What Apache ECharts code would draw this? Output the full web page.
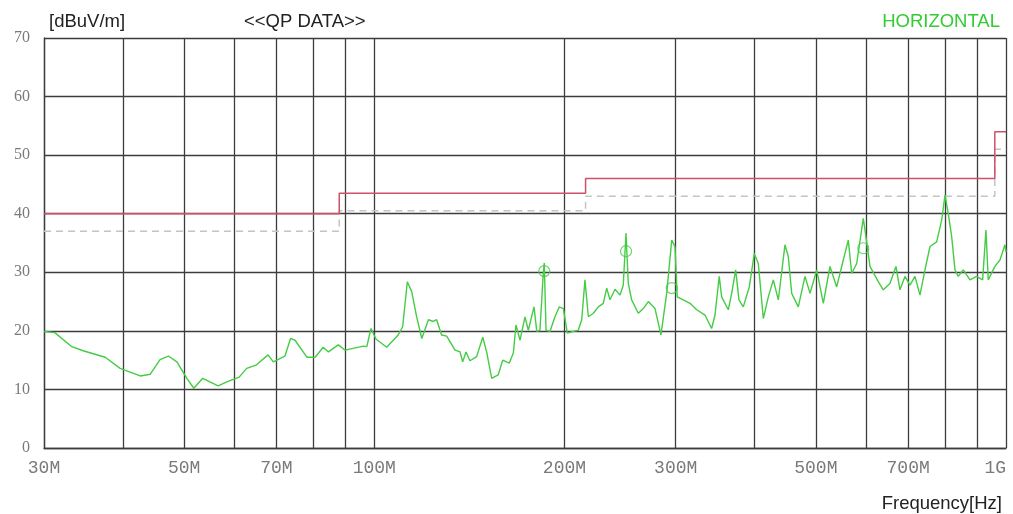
<!DOCTYPE html>
<html>
<head>
<meta charset="utf-8">
<script src="https://cdn.jsdelivr.net/npm/echarts@6/dist/echarts.min.js"></script>
<style>
html,body{margin:0;padding:0;background:#fff;}
#chart{width:1013px;height:514px;}
</style>
</head>
<body>
<div id="chart"></div>
<script>
// ---- data (frequency in MHz, level in dBuV/m) ----
const traceFreq = [30,31.2,33.2,34.6,37.5,39.6,42.6,44.2,45.8,47.2,48.7,50.5,51.8,53.5,56.6,58.4,61.1,62.8,65.1,67.9,69.2,72.2,73.7,74.9,78.2,80.6,83.0,84.6,87.7,89.9,96.1,97.3,98.8,100.6,
104.6,109.1,110.9,112.8,114.6,116.7,118.9,121.8,124.0,125.5,127.8,130.2,134.2,136.7,138.0,139.7,141.7,145.2,148.5,150.6,153.4,157.1,159.7,163.6,166.0,167.6,170.1,173.2,175.3,179.0,180.8,182.9,185.2,185.8,187.0,189.7,193.2,196.3,199.2,202.1,206.5,210.3,213.0,215.5,218.2,222.2,226.3,
230.4,233.3,236.1,240.5,244.9,247.8,250.3,252.4,255.5,261.8,266.6,271.5,278.2,284.3,290.3,295.7,299.2,301.7,308.4,316.1,323.9,333.8,342.0,346.2,351.6,354.7,363.4,367.9,373.3,377.8,383.8,392.3,399.5,405.4,412.9,420.5,428.2,436.1,446.8,452.2,457.9,469.0,
480.6,489.5,501.6,513.8,526.5,539.5,552.6,562.8,569.8,580.3,594.4,601.8,609.1,627.8,639.3,655.1,669.6,679.4,691.9,704.7,717.6,730.8,744.3,758.0,776.7,791.0,800.6,810.2,820.4,830.3,840.3,855.8,876.9,898.5,918.4,929.5,937.4,960.5,978.2,996.2,1000];
const traceLevel = [19.9,19.7,17.3,16.6,15.5,13.6,12.3,12.6,15.1,15.7,14.7,11.9,10.2,11.9,10.6,11.3,12.1,13.6,14.2,15.9,14.7,15.7,18.7,18.4,15.5,15.5,17.2,16.4,17.6,16.7,17.4,17.3,20.4,18.6,
17.2,19.3,20.7,28.4,26.7,22.4,18.7,21.9,21.6,21.9,19.3,19.1,16.7,16.4,14.7,16.4,14.9,15.6,18.9,16.4,11.9,12.5,15.0,14.5,16.2,21.0,18.4,22.4,20.1,24.1,19.9,20.1,30.1,31.6,20.1,19.9,22.4,24.1,23.8,19.6,19.9,20.1,21.9,28.7,22.4,23.0,24.1,
24.7,27.3,25.3,27.1,26.1,27.8,36.7,28.1,25.3,23.0,23.8,25.0,23.8,19.3,26.4,35.5,34.4,25.8,25.3,24.7,23.6,22.7,20.4,22.7,29.3,25.8,23.6,26.4,30.4,25.3,24.1,27.5,33.2,31.5,22.1,25.8,28.7,25.3,34.7,32.7,26.4,24.1,
29.3,26.4,30.4,24.7,31.0,27.5,32.1,35.5,29.8,31.5,39.2,35.2,31.0,28.4,27.0,28.1,31.0,27.0,29.3,27.8,29.3,26.1,30.4,34.4,35.2,38.9,43.2,40.0,36.1,30.4,29.3,30.4,28.7,29.3,28.7,37.2,28.7,31.0,32.1,34.7,33.5];

const markerFreq = [185.8, 250.3, 295.7, 594.4];
const markerLevel = [30.2, 33.6, 27.3, 34.1];

const limitFreq  = [30, 88, 88, 216, 216, 960, 960, 1000];
const limitLevel = [40, 40, 43.5, 43.5, 46, 46, 54, 54];
const marginLevel = [37, 37, 40.5, 40.5, 43, 43, 51, 51];

const gridFreqs  = [30,40,50,60,70,80,90,100,200,300,400,500,600,700,800,900,1000];
const labelFreqs = [30,50,70,100,200,300,500,700,1000];

// ---- build ----
const lg = Math.log10;
const pairs = (xs, ys) => xs.map((f, i) => [lg(f), ys[i]]);

const gridColor = '#3c3c3c';
const txt = {fontFamily: 'Liberation Sans', fontSize: 18.5, fontWeight: 'normal', color: '#222'};
const chart = echarts.init(document.getElementById('chart'), null, {renderer: 'canvas'});
chart.setOption({
  animation: false,
  backgroundColor: '#ffffff',
  grid: {left: 44, right: 7, top: 38, bottom: 66, containLabel: false},
  title: [
    {text: '[dBuV/m]', left: 44, top: 7, textStyle: txt},
    {text: '<<QP DATA>>', left: 239, top: 7, textStyle: txt},
    {text: 'HORIZONTAL', right: 8, top: 7, textStyle: Object.assign({}, txt, {color: '#33cc33'})},
    {text: 'Frequency[Hz]', right: 6, top: 489, textStyle: txt}
  ],
  xAxis: {
    type: 'value',
    min: lg(30), max: 3,
    axisLine: {show: true, onZero: false, lineStyle: {color: gridColor, width: 1.3}},
    axisTick: {show: false, customValues: gridFreqs.map(lg)},
    splitLine: {show: true, lineStyle: {color: gridColor, width: 1.3}},
    axisLabel: {
      customValues: labelFreqs.map(lg),
      margin: 11,
      fontFamily: 'Liberation Mono', fontSize: 18, color: '#7a7a7a',
      alignMinLabel: 'center', alignMaxLabel: 'right',
      formatter: v => { const n = Math.round(Math.pow(10, v)); return n >= 1000 ? (n/1000) + 'G' : n + 'M'; }
    }
  },
  yAxis: {
    type: 'value', min: 0, max: 70, interval: 10,
    axisLine: {show: true, lineStyle: {color: gridColor, width: 1.3}},
    axisTick: {show: false},
    splitLine: {show: true, lineStyle: {color: gridColor, width: 1.3}},
    axisLabel: {margin: 14, fontFamily: 'Liberation Serif', fontSize: 16, color: '#7a7a7a'}
  },
  series: [
    {type: 'line', data: pairs(limitFreq, marginLevel), symbol: 'none',
     lineStyle: {color: '#c4c4c4', width: 1.5, type: [7, 5]}, z: 3},
    {type: 'line', data: pairs(limitFreq, limitLevel), symbol: 'none',
     lineStyle: {color: '#d05068', width: 1.5}, z: 4},
    {type: 'line', data: pairs(traceFreq, traceLevel), symbol: 'none',
     lineStyle: {color: '#44cc44', width: 1.4}, z: 5},
    {type: 'scatter', data: pairs(markerFreq, markerLevel), symbol: 'circle', symbolSize: 11,
     itemStyle: {color: 'rgba(0,0,0,0)', borderColor: '#44cc44', borderWidth: 1.2}, z: 6}
  ]
});
</script>
</body>
</html>
